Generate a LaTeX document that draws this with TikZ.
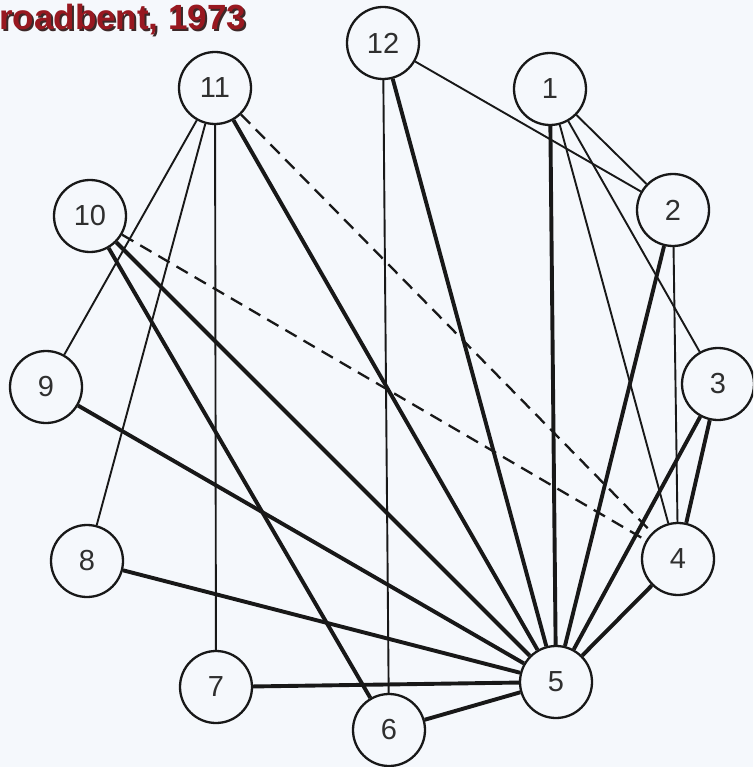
\documentclass[tikz,border=0pt]{standalone}
\usepackage{fontspec}
\setmainfont{Liberation Sans}
\definecolor{paper}{RGB}{245,248,252}
\definecolor{ink}{RGB}{24,24,24}
\definecolor{titlered}{RGB}{152,24,32}
\definecolor{titleshade}{RGB}{60,40,40}
\begin{document}
\begin{tikzpicture}[x=1pt,y=-1pt,
  vtx/.style={circle,draw=ink,line width=2.3pt,minimum size=72pt,inner sep=0pt,
              text=ink!90,font=\fontsize{29}{29}\selectfont},
  weak/.style={draw=ink,line width=1.9pt},
  strong/.style={draw=ink,line width=3.9pt},
  tentative/.style={draw=ink,line width=2.3pt,dash pattern=on 13pt off 8pt},
  heading/.style={anchor=base west,inner sep=0pt,font=\bfseries\fontsize{35}{35}\selectfont}]
\fill[paper] (0,0) rectangle (753,767);
\clip (0,0) rectangle (753,767);

% title with drop shadow
\node[heading,text=titleshade] (titleshadow) at (1,32) {roadbent, 1973};
\node[heading,text=titlered] (title) at (-1,30) {roadbent, 1973};

% the twelve numbered points
\node[vtx] (n1)  at (550,89)  {1};
\node[vtx] (n2)  at (673,210) {2};
\node[vtx] (n3)  at (718,384) {3};
\node[vtx] (n4)  at (678,559) {4};
\node[vtx] (n5)  at (556,682) {5};
\node[vtx] (n6)  at (389,730) {6};
\node[vtx] (n7)  at (216,687) {7};
\node[vtx] (n8)  at (87,561)  {8};
\node[vtx] (n9)  at (46,387)  {9};
\node[vtx] (n10) at (90,216)  {10};
\node[vtx] (n11) at (215,88)  {11};
\node[vtx] (n12) at (383,43)  {12};

% strong links, all meeting at 5
\foreach \v in {1,2,3,4,6,7,8,9,10,11,12}
  \draw[strong] (n5) -- (n\v);
\draw[strong] (n10) -- (n6);
\draw[strong] (n3) -- (n4);

% weak links
\draw[weak] (n1) -- (n2);
\draw[weak] (n1) -- (n3);
\draw[weak] (n1) -- (n4);
\draw[weak] (n12) -- (n2);
\draw[weak] (n12) -- (n6);
\draw[weak] (n2) -- (n4);
\draw[weak] (n11) -- (n9);
\draw[weak] (n11) -- (n8);
\draw[weak] (n11) -- (n7);

% tentative links
\draw[tentative] (n11) -- (n4);
\draw[tentative] (n10) -- (n4);
\end{tikzpicture}
\end{document}
